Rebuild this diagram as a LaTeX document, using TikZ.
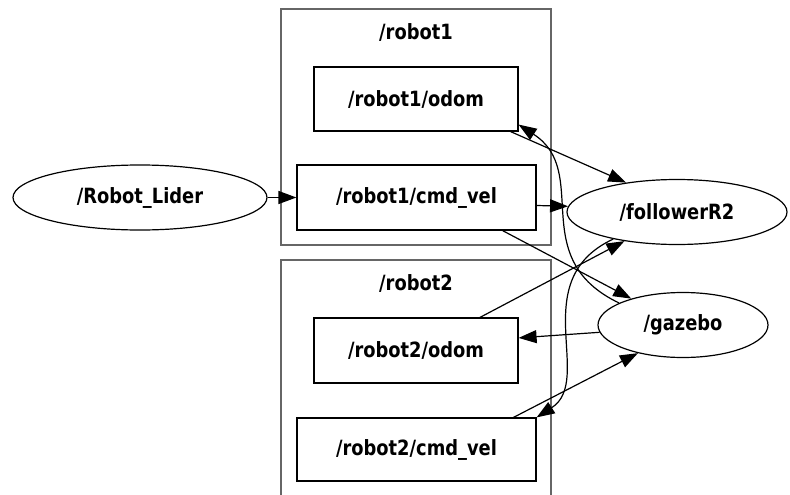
\documentclass[tikz,border=0pt]{standalone}
\usepackage{fontspec}
\setmainfont{DejaVu Sans}[FakeStretch=0.85]
\usepackage{tikz}
\usetikzlibrary{shapes.geometric,arrows.meta}

\begin{document}
\begin{tikzpicture}[x=1pt,y=-1pt,
    >={Triangle[length=18pt,width=13pt]},
    line width=1.2pt,
    font=\fontsize{21}{25}\selectfont\bfseries,
    topic/.style={draw,rectangle,inner sep=0pt},
    rosnode/.style={draw,ellipse,inner sep=0pt},
    cluster/.style={draw=black!60,line width=1.6pt}]
    \useasboundingbox (0,0) rectangle (790,495);

    % Draw the namespace boxes
    \draw[cluster] (281,9) rectangle (551,245);
    \draw[cluster] (281,260) rectangle (551,510);
    \node (robotonelabel) at (416,32) {/robot1};
    \node (robottwolabel) at (416,283) {/robot2};

    % Add the topics
    \node[topic,minimum width=204pt,minimum height=64pt] (odomone) at (416,99) {/robot1/odom};
    \node[topic,minimum width=239pt,minimum height=65pt] (cmdone) at (416.5,197.5) {/robot1/cmd\_vel};
    \node[topic,minimum width=204pt,minimum height=65pt] (odomtwo) at (416,350.5) {/robot2/odom};
    \node[topic,minimum width=239pt,minimum height=63pt] (cmdtwo) at (416.5,449.5) {/robot2/cmd\_vel};

    % Add the nodes
    \node[rosnode,minimum width=254pt,minimum height=65pt] (lider) at (140,197.5) {/Robot\_Lider};
    \node[rosnode,minimum width=220pt,minimum height=65pt] (follower) at (677,212) {/followerR2};
    \node[rosnode,minimum width=170pt,minimum height=65pt] (gazebo) at (683,325) {/gazebo};

    % Draw arrows
    \draw[->] (lider) -- (cmdone);
    \draw[->] ([xshift=-8pt]odomone.south east) -- (follower.150);
    \draw[->] ([yshift=-8pt]cmdone.east) -- (follower.177);
    \draw[->] ([xshift=-34pt]cmdone.south east) -- (gazebo.153);
    \draw[->] (gazebo.161) .. controls (525,258) and (592,172) .. (odomone.-14);
    \draw[->] ([xshift=64pt]odomtwo.north) -- (follower.209);
    \draw[->] (gazebo.185) -- (odomtwo.7);
    \draw[->] ([xshift=97pt]cmdtwo.north) -- (gazebo.212);
    \draw[->] (follower.203) .. controls (525,280) and (595,380) .. (cmdtwo.north east); % curved one down to cmd_vel
\end{tikzpicture}
\end{document}
